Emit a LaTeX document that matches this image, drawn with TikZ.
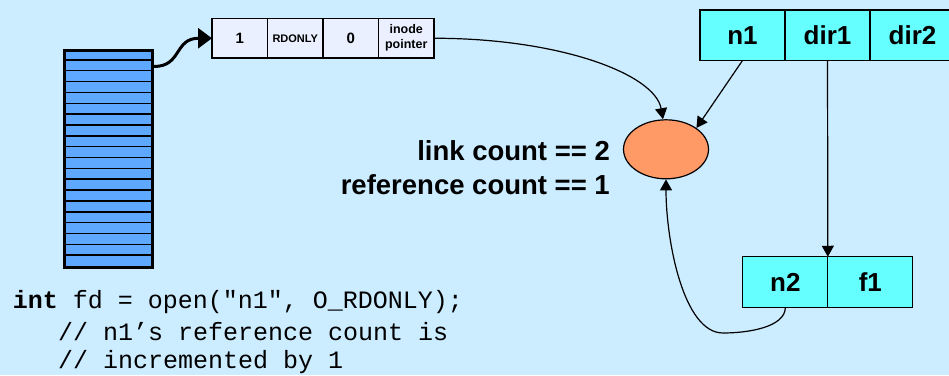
\documentclass[tikz,border=0pt]{standalone}
\usepackage{fontspec}
\setmainfont{Liberation Sans}
\setmonofont{Liberation Mono}
\usetikzlibrary{positioning,shapes.geometric,arrows.meta}
\definecolor{bgblue}{RGB}{204,236,255}
\definecolor{stackblue}{RGB}{95,168,255}
\definecolor{entryfill}{RGB}{234,240,255}
\definecolor{dircyan}{RGB}{102,255,255}
\definecolor{inodefill}{RGB}{255,153,102}
\begin{document}
\begin{tikzpicture}[x=1pt,y=-1pt,
  entry/.style={draw, line width=1.2pt, fill=entryfill, minimum width=55.5pt,
    minimum height=39.5pt, inner sep=0pt, outer sep=0pt, align=center},
  dirent/.style={draw, line width=1.2pt, fill=dircyan, minimum width=85pt,
    minimum height=50.5pt, inner sep=0pt, outer sep=0pt,
    font=\fontsize{26}{30}\selectfont\bfseries},
  link/.style={line width=1.2pt, -{Triangle[length=11pt,width=12pt]}},
  lbl/.style={inner sep=0pt, font=\fontsize{27.5}{33}\selectfont\bfseries},
  code/.style={inner sep=0pt, font=\fontsize{25}{30}\selectfont\ttfamily}]
\useasboundingbox (0,0) rectangle (949,375);
\fill[bgblue] (0,0) rectangle (949,375);
% file descriptor table
\node[draw, line width=3pt, fill=stackblue, minimum width=88pt, minimum height=217pt,
  inner sep=0pt, anchor=north west] (fdtab) at (63,49) {};
\foreach \i in {1,...,19}
  \draw[line width=1.5pt] ([yshift=-\i*10.85pt]fdtab.north west) -- ([yshift=-\i*10.85pt]fdtab.north east);
\coordinate (fdslot) at ([yshift=-17.5pt]fdtab.north east);
% open file entry
\node[entry, font=\fontsize{15}{18}\selectfont\bfseries] (cnt) at (239.75,38.25) {1};
\node[entry, right=0pt of cnt, font=\fontsize{11}{13}\selectfont\bfseries] (mode) {RDONLY};
\node[entry, right=0pt of mode, font=\fontsize{15}{18}\selectfont\bfseries] (offs) {0};
\node[entry, right=0pt of offs, font=\fontsize{12.5}{15}\selectfont\bfseries] (iptr) {inode\\pointer};
\draw[line width=3pt, -{Triangle[length=14pt,width=20pt]}] (fdslot) .. controls +(28,0) and +(-38,0) .. (cnt.west);
% directories
\node[dirent] (dn1) at (742.5,35.25) {n1};
\node[dirent, right=0pt of dn1] (dd1) {dir1};
\node[dirent, right=0pt of dd1] (dd2) {dir2};
\node[dirent] (dn2) at (785.35,282) {n2};
\node[dirent, right=0pt of dn2] (df1) {f1};
% inode
\node[ellipse, draw, line width=1.2pt, fill=inodefill, minimum width=85pt,
  minimum height=59pt, inner sep=0pt] (inode) at (666,149.3) {};
\node[lbl, anchor=base east] (linkc) at (610,160.7) {link count == 2};
\node[lbl, anchor=base east] (refc) at (610,194) {reference count == 1};
\coordinate (bend) at (723,333);
\draw[link] (iptr.east) .. controls +(126,0) and +(-8,-45) .. ([xshift=-3pt]inode.north);
\draw[link] (dn1.south) -- (inode.35);
\draw[link] (dd1.south) -- (dn2.north east);
\draw[link] (dn2.south) .. controls +(0,20) and +(25,0) .. (bend)
  .. controls +(-40,0) and +(0,60) .. (inode.south);
% code
\node[code, anchor=base west] (src) at (12.7,308.3) {\textbf{int} fd = open("n1", O\_RDONLY);};
\node[code, anchor=base west] (cmt1) at (57.9,340) {// n1’s reference count is};
\node[code, anchor=base west] (cmt2) at (57.9,368.3) {// incremented by 1};
\end{tikzpicture}
\end{document}
